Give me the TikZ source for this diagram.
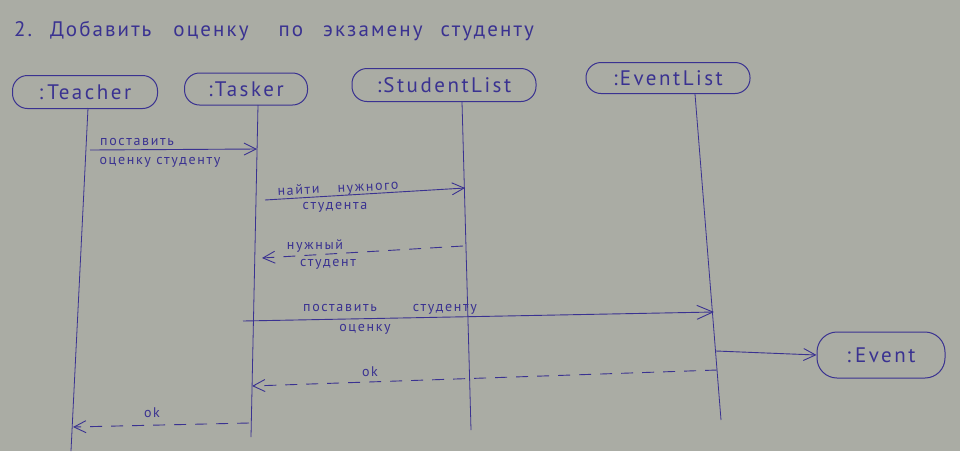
\documentclass[tikz,border=0pt]{standalone}
\usepackage{fontspec}
\setmainfont{PT Sans}
\usetikzlibrary{arrows.meta}
\definecolor{paper}{RGB}{170,172,164}
\definecolor{ink}{RGB}{58,50,145}
\begin{document}
\begin{tikzpicture}[x=1pt,y=-1pt,
  actor/.style={draw=ink, line width=1pt, rounded corners=15pt, inner sep=0pt, text=ink,
    font=\fontsize{21}{21}\selectfont\addfontfeatures{LetterSpace=12}},
  life/.style={draw=ink, line width=0.8pt},
  msg/.style={draw=ink, line width=0.9pt, -{Straight Barb[length=12pt,width=12pt,line width=0.9pt]}},
  ret/.style={msg, dash pattern=on 12pt off 9pt},
  lbl/.style={text=ink, inner sep=0pt, font=\fontsize{14}{14}\selectfont\addfontfeatures{LetterSpace=12}},
  ttl/.style={text=ink, inner sep=0pt, anchor=west, font=\fontsize{21}{21}\selectfont\addfontfeatures{LetterSpace=10}}]
\fill[paper] (0,0) rectangle (960,451);
\useasboundingbox (0,0) rectangle (960,451);

% title
\node[ttl] (title) at (14,31) {2.\hspace{18pt}Добавить\hspace{22pt}оценку\hspace{30pt}по\hspace{20pt}экзамену\hspace{18pt}студенту};

% heads
\node[actor, minimum width=145pt, minimum height=33pt] (teacher) at (85,92) {:\hspace{4pt}Teacher};
\node[actor, minimum width=123pt, minimum height=32pt] (tasker) at (246,89) {:\hspace{2pt}Tasker};
\node[actor, minimum width=184pt, minimum height=33pt] (slist) at (444,85) {:\hspace{2pt}StudentList};
\node[actor, minimum width=164pt, minimum height=31pt] (elist) at (668,78) {:\hspace{2pt}EventList};
\node[actor, minimum width=128pt, minimum height=46pt, rounded corners=20pt] (event) at (881,355) {:\hspace{4pt}Event};

% lifelines
\coordinate (teT) at (88,108);  \coordinate (teB) at (71,451);
\coordinate (taT) at (258,105); \coordinate (taB) at (251,437);
\coordinate (slT) at (462,102); \coordinate (slB) at (471,430);
\coordinate (elT) at (695,94);  \coordinate (elB) at (721,420);
\draw[life] (teT) -- (teB);
\draw[life] (taT) -- (taB);
\draw[life] (slT) -- (slB);
\draw[life] (elT) -- (elB);

% message 1
\coordinate (m1a) at (90,150); \coordinate (m1b) at (257,149);
\draw[msg] (m1a) -- (m1b);
\node[lbl] (l1a) at (137,142) {поставить};
\node[lbl] (l1b) at (160,162) {оценку студенту};

% message 2
\coordinate (m2a) at (265,200); \coordinate (m2b) at (465,188);
\draw[msg] (m2a) -- (m2b);
\node[lbl, rotate=3] (l2a) at (338,189) {найти\hspace{18pt}нужного};
\node[lbl] (l2b) at (335,207) {студента};

% message 3 (return)
\coordinate (m3a) at (463,246); \coordinate (m3b) at (262,258);
\draw[ret] (m3a) -- (m3b);
\node[lbl] (l3a) at (315,246) {нужный};
\node[lbl] (l3b) at (328,264) {студент};

% message 4
\coordinate (m4a) at (243,321); \coordinate (m4b) at (714,312);
\draw[msg, -{Straight Barb[length=16pt,width=14pt,line width=0.9pt]}] (m4a) -- (m4b);
\node[lbl] (l4a) at (390,309) {поставить\hspace{36pt}студенту};
\node[lbl] (l4b) at (365,329) {оценку};

% message 5 (create)
\coordinate (m5a) at (716,351);
\draw[msg] (m5a) -- (event.west);

% message 6 (return ok)
\coordinate (m6a) at (717,370); \coordinate (m6b) at (252,386);
\draw[ret] (m6a) -- (m6b);
\node[lbl] (l6) at (370,372) {ok};

% message 7 (return ok)
\coordinate (m7a) at (249,423); \coordinate (m7b) at (73,427);
\draw[ret] (m7a) -- (m7b);
\node[lbl] (l7) at (152,413) {ok};
\end{tikzpicture}
\end{document}
